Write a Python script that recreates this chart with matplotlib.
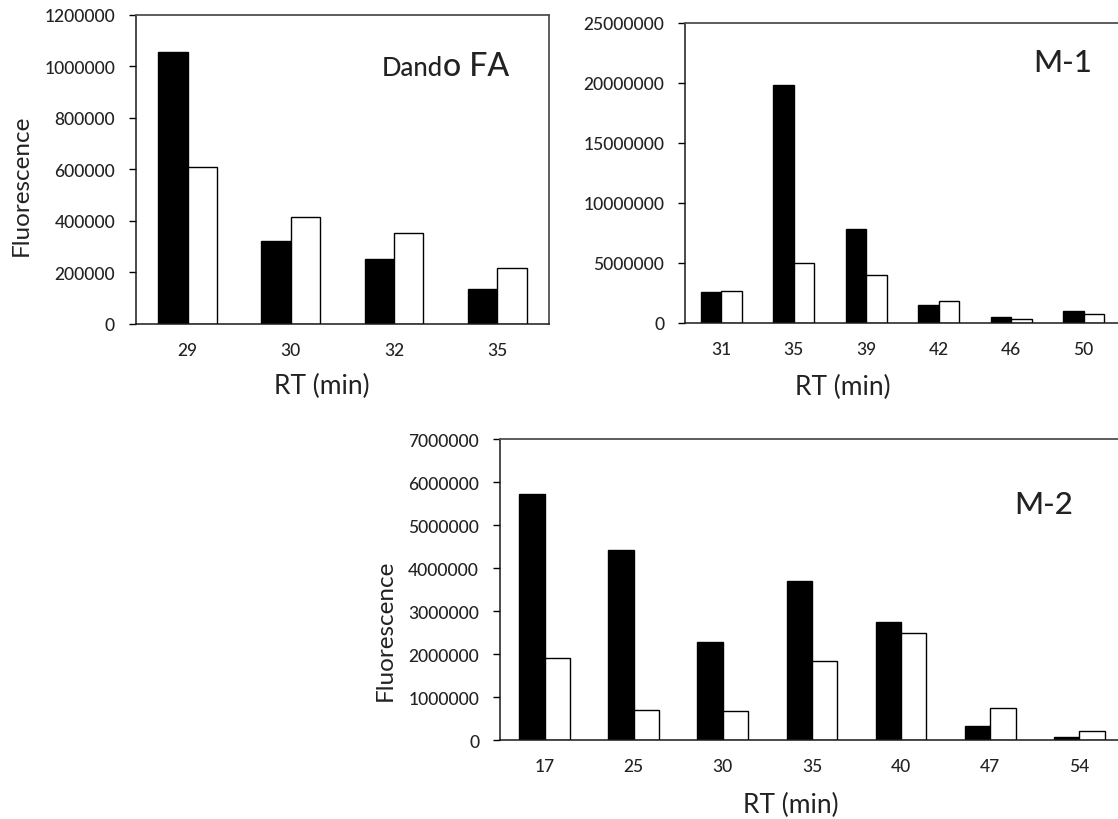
import numpy as np
import matplotlib
matplotlib.use('Agg')
import matplotlib.pyplot as plt

plt.rcParams['font.family'] = ['Lato', 'DejaVu Sans']
plt.rcParams['font.weight'] = 'medium'

# retention times (x categories) and fluorescence for the two samples in each panel
fa_rt = ['29', '30', '32', '35']
fa_dark = [1055000, 323000, 252000, 135000]
fa_light = [611000, 415000, 352000, 216000]

m1_rt = ['31', '35', '39', '42', '46', '50']
m1_dark = [2560000, 19850000, 7800000, 1500000, 470000, 1000000]
m1_light = [2640000, 5010000, 4000000, 1870000, 330000, 750000]

m2_rt = ['17', '25', '30', '35', '40', '47', '54']
m2_dark = [5710000, 4430000, 2270000, 3690000, 2750000, 320000, 60000]
m2_light = [1910000, 700000, 670000, 1830000, 2500000, 740000, 210000]

fa_yticks = np.arange(0, 1200001, 200000)
m1_yticks = np.arange(0, 25000001, 5000000)
m2_yticks = np.arange(0, 7000001, 1000000)

BAR_W = 0.285
TXT = '#222222'


def bar_panel(ax, cats, dark, light, yticks):
    x = np.arange(len(cats))
    ax.bar(x - BAR_W / 2, dark, BAR_W, color='black', edgecolor='black', linewidth=1.0)
    ax.bar(x + BAR_W / 2, light, BAR_W, color='white', edgecolor='black', linewidth=1.0)
    ax.set_xlim(-0.5, len(cats) - 0.5)
    ax.set_ylim(0, yticks[-1])
    ax.set_xticks(x)
    ax.set_xticklabels(cats)
    ax.set_yticks(yticks)
    ax.set_yticklabels([str(int(t)) for t in yticks])
    ax.tick_params(axis='x', length=0, pad=13, labelsize=12.5, labelcolor=TXT)
    ax.tick_params(axis='y', direction='out', length=5, width=1.0, pad=10,
                   labelsize=12.5, labelcolor=TXT)
    for side in ['left', 'bottom']:
        ax.spines[side].set_color('#1a1a1a')
        ax.spines[side].set_linewidth(1.1)
    for side in ['top', 'right']:
        ax.spines[side].set_color('#505050')
        ax.spines[side].set_linewidth(1.3)
    ax.set_xlabel('RT (min)', fontsize=19, color=TXT, va='center')


fig = plt.figure(figsize=(11.18, 8.2), dpi=100)

ax1 = fig.add_axes([0.1216, 0.6037, 0.3694, 0.3768])
bar_panel(ax1, fa_rt, fa_dark, fa_light, fa_yticks)
ax1.set_ylabel('Fluorescence', fontsize=17.5, color=TXT, va='center')
ax1.yaxis.set_label_coords(-0.278, 0.453)
ax1.xaxis.set_label_coords(0.449, -0.2006)

# "Dand" is set smaller than the rest of the label
t1 = ax1.text(0.596, 0.806, 'Dand', transform=ax1.transAxes, fontsize=18.5,
              color=TXT, va='baseline', ha='left')
fig.canvas.draw()
bb = t1.get_window_extent()
x_end = ax1.transAxes.inverted().transform((bb.x1, bb.y0))[0]
ax1.text(x_end, 0.806, 'o FA', transform=ax1.transAxes, fontsize=23,
         color=TXT, va='baseline', ha='left')

ax2 = fig.add_axes([0.6127, 0.6049, 0.389, 0.3659])
bar_panel(ax2, m1_rt, m1_dark, m1_light, m1_yticks)
ax2.xaxis.set_label_coords(0.363, -0.21)
ax2.text(0.80, 0.84, 'M-1', transform=ax2.transAxes, fontsize=22.5,
         color=TXT, va='baseline', ha='left')

ax3 = fig.add_axes([0.4472, 0.0963, 0.5581, 0.3671])
bar_panel(ax3, m2_rt, m2_dark, m2_light, m2_yticks)
ax3.set_ylabel('Fluorescence', fontsize=17.5, color=TXT, va='center')
ax3.yaxis.set_label_coords(-0.184, 0.369)
ax3.xaxis.set_label_coords(0.466, -0.2126)
ax3.text(0.824, 0.754, 'M-2', transform=ax3.transAxes, fontsize=22.5,
         color=TXT, va='baseline', ha='left')

fig.savefig('out.png', dpi=100)
